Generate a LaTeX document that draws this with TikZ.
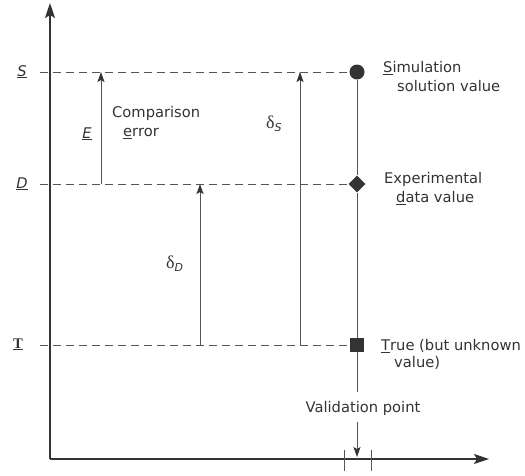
\documentclass[tikz,border=0pt]{standalone}
\usepackage{fontspec}
\setmainfont{DejaVu Sans}
\newfontfamily\serifT{Liberation Serif}
\usetikzlibrary{arrows.meta,shapes.geometric}
\definecolor{ink}{HTML}{333333}
\definecolor{thin}{HTML}{555555}
\newcommand{\dlt}[1]{{\serifT\fontsize{18}{18}\selectfont δ}\raisebox{-3pt}{\fontsize{11}{11}\selectfont\textit{#1}}}
\begin{document}
\begin{tikzpicture}[x=1pt,y=-1pt,
  axis/.style={draw=ink,line width=1.8pt,-{Stealth[length=15pt,width=10pt,inset=3pt]}},
  level/.style={draw=thin,line width=0.8pt,dash pattern=on 8pt off 5pt},
  vline/.style={draw=thin,line width=0.9pt},
  darrow/.style={draw=thin,line width=0.9pt,-{Stealth[length=10pt,width=7pt,inset=2pt,color=ink]}},
  lbl/.style={text=ink,inner sep=0pt,font=\fontsize{14.7}{19}\selectfont},
  blk/.style={lbl,align=left,anchor=north west},
  marker/.style={fill=ink,draw=none,inner sep=0pt}]
\useasboundingbox (0,0) rectangle (525,475);
% axes
\coordinate (O) at (50,459);
\coordinate (ytop) at (50,3);
\coordinate (xend) at (489,459);
\draw[axis] (O) -- (ytop);
\draw[axis] (O) -- (xend);
% markers
\node[marker,circle,minimum size=15pt] (sim) at (357,72) {};
\node[marker,diamond,minimum size=17pt] (exp) at (357,184) {};
\node[marker,rectangle,minimum size=13.5pt] (tru) at (357,345) {};
% level coordinates
\coordinate (sL) at (40,72);
\coordinate (dL) at (40,184);
\coordinate (tL) at (40,345);
\draw[level] (sL) -- (sim.west);
\draw[level] (dL) -- (exp.west);
\draw[level] (tL) -- (tru.west);
% arrows between levels
\coordinate (eB) at (101,184);
\coordinate (eT) at (101,72);
\coordinate (dB) at (200,345);
\coordinate (dT) at (200,184);
\coordinate (sB) at (300,345);
\coordinate (sT) at (300,72);
\draw[darrow] (eB) -- (eT);
\draw[darrow] (dB) -- (dT);
\draw[darrow] (sB) -- (sT);
% validation line
\node[lbl] (val) at (363,408) {Validation point};
\coordinate (vTop) at (357,392);
\coordinate (vArr) at (357,422);
\coordinate (vTip) at (357,457);
\draw[vline] (sim) -- (exp) -- (tru) -- (vTop);
\draw[darrow] (vArr) -- (vTip);
% ticks
\coordinate (t1a) at (344,450);
\coordinate (t1b) at (344,471);
\coordinate (t2a) at (371,450);
\coordinate (t2b) at (371,471);
\draw[vline] (t1a) -- (t1b);
\draw[vline] (t2a) -- (t2b);
% axis labels
\node[lbl,anchor=base] (Slab) at (22,76) {\underline{\textit{S}}};
\node[lbl,anchor=base] (Dlab) at (22,188) {\underline{\textit{D}}};
\node[lbl,anchor=base] (Tlab) at (18,348) {\serifT\bfseries\underline{T}};
\node[lbl,anchor=base] (Elab) at (87,138) {\underline{\textit{E}}};
% deltas
\node[lbl,anchor=base west] (dS) at (266,128) {\dlt{S}};
\node[lbl,anchor=base west] (dD) at (166,268) {\dlt{D}};
% text blocks
\node[blk] (cmp) at (112,106) {Comparison\\\hspace*{11pt}\underline{e}rror};
\node[blk] (simt) at (383,61) {\underline{S}imulation\\\hspace*{14pt}solution value};
\node[blk] (expt) at (384,172) {Experimental\\\hspace*{12pt}\underline{d}ata value};
\node[blk,font=\fontsize{14.7}{17}\selectfont] (trut) at (381,339) {\underline{T}rue (but unknown\\\hspace*{13pt}value)};
\end{tikzpicture}
\end{document}
